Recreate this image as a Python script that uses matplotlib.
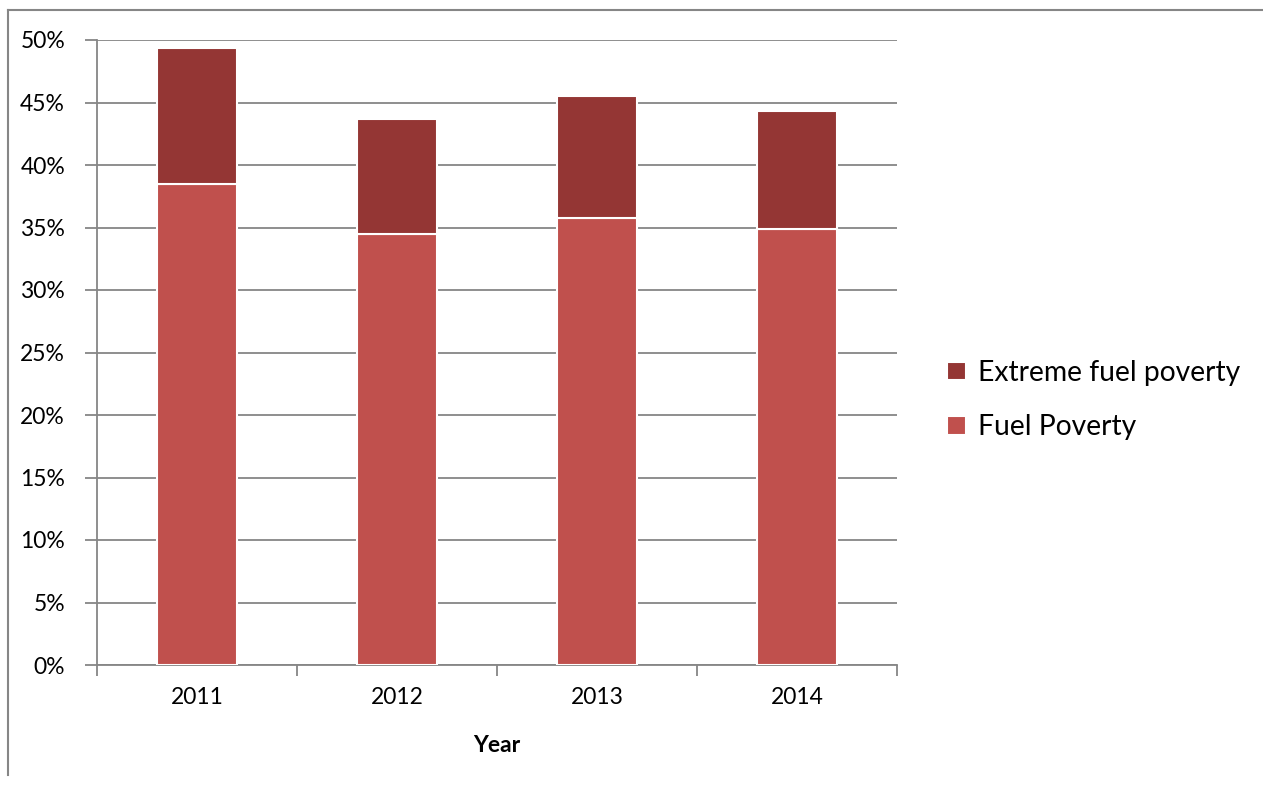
import numpy as np
import matplotlib.pyplot as plt
from matplotlib.lines import Line2D
from matplotlib.ticker import PercentFormatter

plt.rcParams['font.family'] = ['Lato', 'DejaVu Sans']

years = ['2011', '2012', '2013', '2014']
fuel_poverty = [38.5, 34.5, 35.8, 34.9]
extreme_fuel_poverty = [10.9, 9.2, 9.7, 9.4]

fuel_col = '#C0504D'
extreme_col = '#943634'
grid_col = '#868686'


def main():
    fig = plt.figure(figsize=(12.63, 7.85), dpi=100)
    ax = fig.add_axes([97 / 1263, 1 - 665 / 785, 800 / 1263, 625 / 785])

    x = np.arange(len(years))
    ax.bar(x, fuel_poverty, width=0.4, color=fuel_col, edgecolor='white',
           linewidth=1.5, label='Fuel Poverty', zorder=3)
    ax.bar(x, extreme_fuel_poverty, width=0.4, bottom=fuel_poverty,
           color=extreme_col, edgecolor='white', linewidth=1.5,
           label='Extreme fuel poverty', zorder=3)

    ax.set_xlim(-0.5, len(years) - 0.5)
    ax.set_ylim(0, 50)
    ax.set_yticks(np.arange(0, 51, 5))
    ax.yaxis.set_major_formatter(PercentFormatter(decimals=0))
    ax.grid(axis='y', color=grid_col, linewidth=1.3, zorder=0)

    # category labels centred, ticks on the boundaries
    ax.set_xticks(x)
    ax.set_xticklabels(years)
    ax.set_xticks(np.arange(-0.5, len(years)), minor=True)
    ax.tick_params(axis='x', which='major', length=0, pad=16, labelsize=16.5)
    ax.tick_params(axis='x', which='minor', length=8, width=1.3, color=grid_col)
    ax.tick_params(axis='y', length=9, width=1.3, color=grid_col, pad=14, labelsize=16.5)

    for s in ['top', 'right']:
        ax.spines[s].set_visible(False)
    for s in ['left', 'bottom']:
        ax.spines[s].set_color(grid_col)
        ax.spines[s].set_linewidth(1.3)

    ax.set_xlabel('Year', fontweight='bold', fontsize=16.5, labelpad=19)

    handles, labels = ax.get_legend_handles_labels()
    fig.legend(handles[::-1], labels[::-1], loc='center left',
               bbox_to_anchor=(922 / 1263, 1 - 400 / 785), frameon=False,
               fontsize=20.3, handlelength=0.65, handleheight=0.65,
               handletextpad=0.45, labelspacing=1.0)

    # outer chart-area border (top and left only visible)
    fig.add_artist(Line2D([8 / 1263, 1.0], [1 - 10 / 785] * 2, color=grid_col, lw=1.5))
    fig.add_artist(Line2D([8 / 1263] * 2, [1 - 10 / 785, 1 - 775 / 785], color=grid_col, lw=1.5))

    fig.savefig('out.png', dpi=100)


if __name__ == "__main__":
    main()
